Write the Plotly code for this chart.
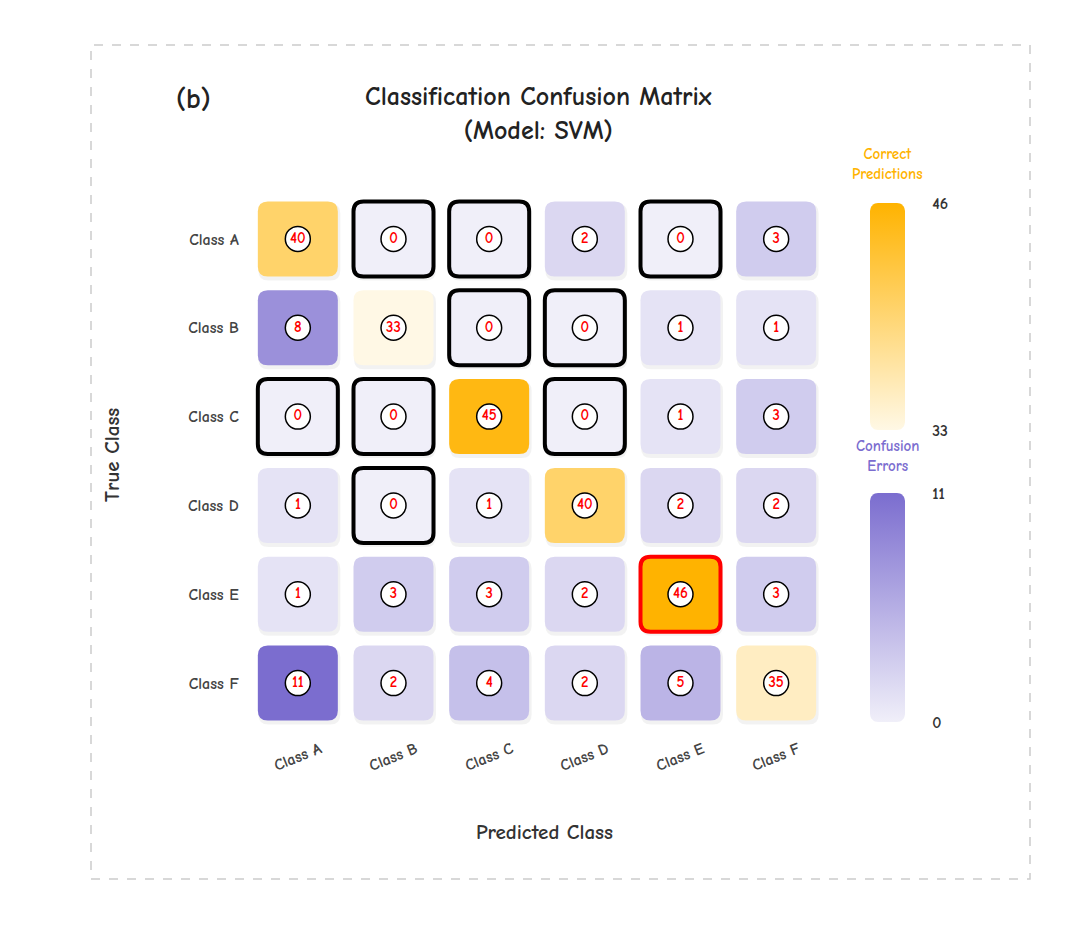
import math
import plotly.graph_objects as go

classes = ["Class A", "Class B", "Class C", "Class D", "Class E", "Class F"]
matrix = [
    [40, 0, 0, 2, 0, 3],
    [8, 33, 0, 0, 1, 1],
    [0, 0, 45, 0, 1, 3],
    [1, 0, 1, 40, 2, 2],
    [1, 3, 3, 2, 46, 3],
    [11, 2, 4, 2, 5, 35],
]
correct_range = [33, 46]
error_range = [0, 11]

FONT = "Comic Sans MS, Comic Neue, Lato, sans-serif"
ORANGE_LO, ORANGE_HI = (255, 248, 229), (255, 179, 0)
PURPLE_LO, PURPLE_HI = (240, 239, 249), (123, 109, 207)


def lerp(c0, c1, t):
    t = max(0.0, min(1.0, t))
    return "rgb(%d,%d,%d)" % tuple(round(a + (b - a) * t) for a, b in zip(c0, c1))


def rrect(cx, cy, hw, hh, rx, ry):
    x0, x1, y0, y1 = cx - hw, cx + hw, cy - hh, cy + hh
    return (f"M {x0+rx},{y0} L {x1-rx},{y0} Q {x1},{y0} {x1},{y0+ry} "
            f"L {x1},{y1-ry} Q {x1},{y1} {x1-rx},{y1} L {x0+rx},{y1} "
            f"Q {x0},{y1} {x0},{y1-ry} L {x0},{y0+ry} Q {x0},{y0} {x0+rx},{y0} Z")


def rrect_xy(x0, x1, y0, y1, rx, ry, n=8):
    xs, ys = [], []
    corners = [(x1 - rx, y1 - ry, 0), (x0 + rx, y1 - ry, 90), (x0 + rx, y0 + ry, 180), (x1 - rx, y0 + ry, 270)]
    for cx, cy, a0 in corners:
        for k in range(n + 1):
            a = math.radians(a0 + 90 * k / n)
            xs.append(cx + rx * math.cos(a))
            ys.append(cy + ry * math.sin(a))
    xs.append(xs[0]); ys.append(ys[0])
    return xs, ys


W, H = 1080, 925
gx0, gx1 = 250, 824
gy0, gy1 = 194.5, 727.5
px_x = (gx1 - gx0) / 6
px_y = (gy1 - gy0) / 6
hw, hh = 40 / px_x, 37.5 / px_y
rx, ry = 10 / px_x, 10 / px_y

n = len(classes)
diag_max = max(matrix[i][i] for i in range(n))

shapes = []
shapes.append(dict(type="rect", xref="paper", yref="paper",
                   x0=91 / W, x1=1030 / W, y0=1 - 879 / H, y1=1 - 45 / H,
                   line=dict(color="#CCCCCC", width=1.5, dash="dash"), layer="below"))
for i in range(n):
    for j in range(n):
        shapes.append(dict(type="path", xref="x", yref="y",
                           path=rrect(j + 1.5 / px_x, i + 3 / px_y, hw + 1 / px_x, hh + 1 / px_y, rx, ry),
                           fillcolor="rgba(0,0,0,0.05)", line=dict(width=0), layer="below"))
for i in range(n):
    for j in range(n):
        v = matrix[i][j]
        if i == j:
            col = lerp(ORANGE_LO, ORANGE_HI, (v - correct_range[0]) / (correct_range[1] - correct_range[0]))
        else:
            col = lerp(PURPLE_LO, PURPLE_HI, (v - error_range[0]) / (error_range[1] - error_range[0]))
        line = dict(width=0)
        if i == j and v == diag_max:
            line = dict(color="#FF0000", width=4)
        elif v == 0:
            line = dict(color="#000000", width=4)
        shapes.append(dict(type="path", xref="x", yref="y", path=rrect(j, i, hw, hh, rx, ry),
                           fillcolor=col, line=line, layer="below"))

xs, ys, txt = [], [], []
for i in range(n):
    for j in range(n):
        xs.append(j); ys.append(i); txt.append(str(matrix[i][j]))

fig = go.Figure()
fig.add_trace(go.Scatter(
    x=xs, y=ys, mode="markers+text", text=txt, textposition="middle center",
    marker=dict(size=25, color="white", line=dict(color="black", width=1.5)),
    textfont=dict(family=FONT, size=15, color="#FF0000", weight="bold"),
    hoverinfo="skip", showlegend=False, xaxis="x", yaxis="y"))

cbx, cby = rrect_xy(0, 1, correct_range[0], correct_range[1], 8 / 35,
                    8 / 227 * (correct_range[1] - correct_range[0]))
fig.add_trace(go.Scatter(
    x=cbx, y=cby, mode="lines", fill="toself", line=dict(width=0),
    fillgradient=dict(type="vertical",
                      colorscale=[[0, lerp(ORANGE_LO, ORANGE_HI, 0)], [1, lerp(ORANGE_LO, ORANGE_HI, 1)]]),
    hoverinfo="skip", showlegend=False, xaxis="x2", yaxis="y2"))
ebx, eby = rrect_xy(0, 1, error_range[0], error_range[1], 8 / 35,
                    8 / 229 * (error_range[1] - error_range[0]))
fig.add_trace(go.Scatter(
    x=ebx, y=eby, mode="lines", fill="toself", line=dict(width=0),
    fillgradient=dict(type="vertical",
                      colorscale=[[0, lerp(PURPLE_LO, PURPLE_HI, 0)], [1, lerp(PURPLE_LO, PURPLE_HI, 1)]]),
    hoverinfo="skip", showlegend=False, xaxis="x3", yaxis="y3"))


def ann(text, x, y, size, color, angle=0, xref="paper"):
    return dict(text=text, x=x, y=1 - y / H, xref=xref, yref="paper", textangle=angle,
                xanchor="center", yanchor="middle", showarrow=False,
                font=dict(family=FONT, size=size, color=color, weight="bold"))


annotations = [
    ann("(b)", 193 / W, 99, 28, "#222"),
    ann("Classification Confusion Matrix<br>(Model: SVM)", 538 / W, 114, 26, "#222"),
    ann("Predicted Class", 544 / W, 832, 21, "#333"),
    ann("True Class", 112 / W, 455, 21, "#333", angle=-90),
    ann("Correct<br>Predictions", 887 / W, 164, 15, "#FFB300"),
    ann("Confusion<br>Errors", 887 / W, 456, 15, "#7B6DCF"),
]
for j, c in enumerate(classes):
    annotations.append(ann(c, j, 757, 16, "#444", angle=-22, xref="x"))

fig.update_layout(
    width=W, height=H, margin=dict(l=0, r=0, t=0, b=0, autoexpand=False),
    paper_bgcolor="white", plot_bgcolor="white",
    font=dict(family=FONT, color="#333"),
    shapes=shapes, annotations=annotations,
    xaxis=dict(domain=[gx0 / W, gx1 / W], range=[-0.5, n - 0.5], showgrid=False, zeroline=False,
               tickvals=list(range(n)), showticklabels=False, ticks=""),
    yaxis=dict(domain=[1 - gy1 / H, 1 - gy0 / H], range=[n - 0.5, -0.5], showgrid=False, zeroline=False,
               tickvals=list(range(n)), ticktext=classes,
               ticks="outside", ticklen=7, tickcolor="rgba(0,0,0,0)",
               tickfont=dict(family=FONT, size=16, color="#444", weight="bold")),
    xaxis2=dict(domain=[870 / W, 905 / W], range=[0, 1], visible=False, anchor="y2"),
    yaxis2=dict(domain=[1 - 430 / H, 1 - 203 / H], range=correct_range, anchor="x2", side="right",
                showgrid=False, zeroline=False, showline=False,
                tickvals=correct_range, ticktext=[str(v) for v in correct_range],
                ticks="outside", ticklen=23, tickcolor="rgba(0,0,0,0)",
                tickfont=dict(family=FONT, size=16, color="#333", weight="bold")),
    xaxis3=dict(domain=[870 / W, 905 / W], range=[0, 1], visible=False, anchor="y3"),
    yaxis3=dict(domain=[1 - 722 / H, 1 - 493 / H], range=error_range, anchor="x3", side="right",
                showgrid=False, zeroline=False, showline=False,
                tickvals=error_range, ticktext=[str(v) for v in error_range],
                ticks="outside", ticklen=23, tickcolor="rgba(0,0,0,0)",
                tickfont=dict(family=FONT, size=16, color="#333", weight="bold")),
)

fig.write_html("out.html", config={"responsive": False, "displayModeBar": False},
               post_script="document.body.style.margin='0';document.body.style.overflow='hidden';")
